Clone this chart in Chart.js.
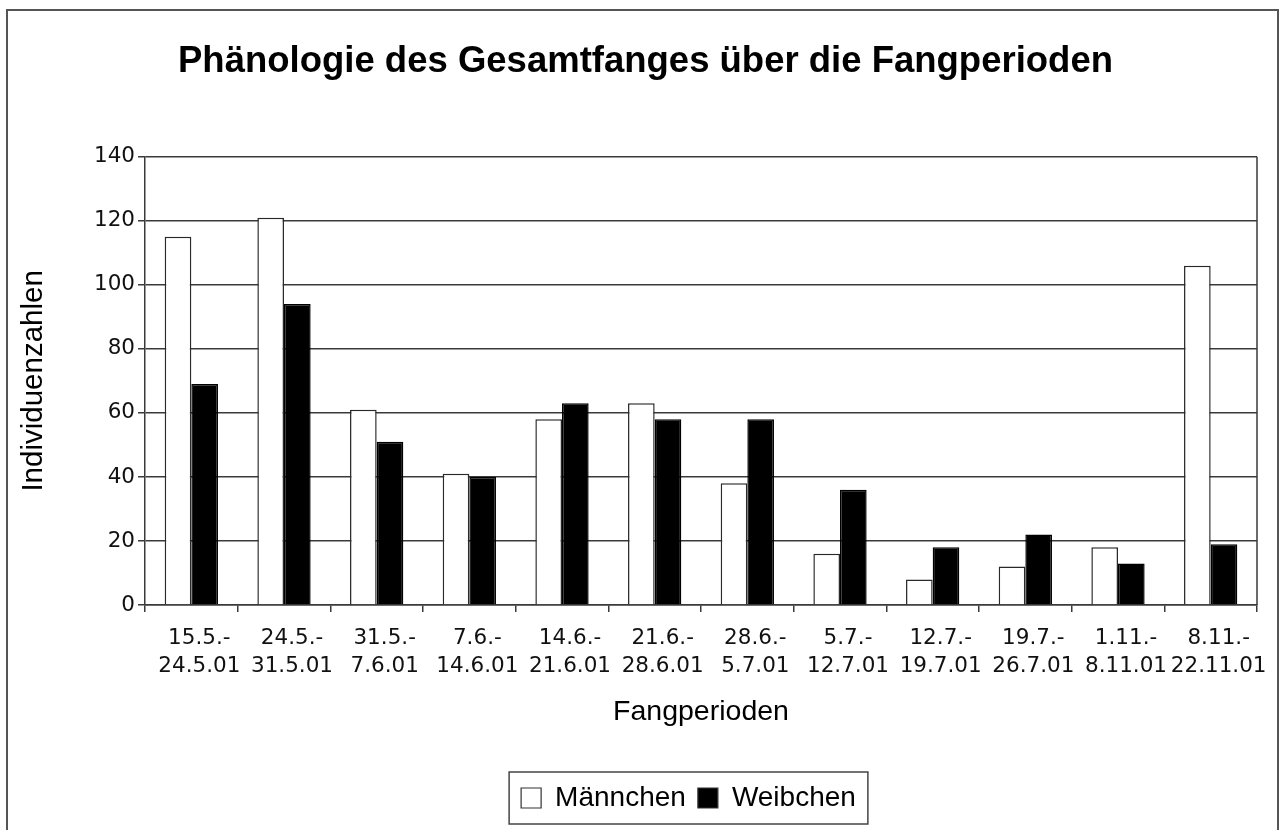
<!DOCTYPE html>
<html>
<head>
<meta charset="utf-8">
<script src="https://cdn.jsdelivr.net/npm/chart.js@4/dist/chart.umd.min.js"></script>
<style>
  html, body { margin: 0; padding: 0; background: #fff; }
  canvas { display: block; }
</style>
</head>
<body>
<canvas id="chart" width="1282" height="830"></canvas>
<script>
// Fangperioden (two-line labels)
const periods = [
    ["15.5.-", "24.5.01"], ["24.5.-", "31.5.01"], ["31.5.-", "7.6.01"],
    ["7.6.-", "14.6.01"], ["14.6.-", "21.6.01"], ["21.6.-", "28.6.01"],
    ["28.6.-", "5.7.01"], ["5.7.-", "12.7.01"], ["12.7.-", "19.7.01"],
    ["19.7.-", "26.7.01"], ["1.11.-", "8.11.01"], ["8.11.-", "22.11.01"]
];
const maennchen = [115, 121, 61, 41, 58, 63, 38, 16, 8, 12, 18, 106];
const weibchen = [69, 94, 51, 40, 63, 58, 58, 36, 18, 22, 13, 19];
const yMax = 140;
const yStep = 20;

const ARIAL = "'Liberation Sans', Arial, sans-serif";
const VERDANA = "'DejaVu Sans', Verdana, sans-serif";
const lineColor = "#3a3a3a";

// nudge title and legend sideways like in the original (Excel) layout
const shiftPlugin = {
    id: "shift",
    afterLayout(chart) {
        chart.titleBlock.left += 17;
        chart.titleBlock.right += 17;
        chart.legend.left += 60;
        chart.legend.right += 60;
    }
};

// frame around everything, right border of the plot, box around legend
const framePlugin = {
    id: "frame",
    afterDraw(chart) {
        const ctx = chart.ctx;
        const a = chart.chartArea;
        ctx.save();
        ctx.strokeStyle = lineColor;
        ctx.lineWidth = 1.5;
        ctx.beginPath();
        ctx.moveTo(a.right, a.top);
        ctx.lineTo(a.right, a.bottom);
        ctx.stroke();

        ctx.strokeStyle = "#555";
        ctx.lineWidth = 2;
        ctx.strokeRect(7, 10, 1271, 900);

        const boxes = chart.legend.legendHitBoxes;
        if (boxes && boxes.length) {
            let l = Infinity, r = -Infinity, t = Infinity, b = -Infinity;
            boxes.forEach(h => {
                l = Math.min(l, h.left);
                r = Math.max(r, h.left + h.width);
                t = Math.min(t, h.top);
                b = Math.max(b, h.top + h.height);
            });
            ctx.strokeStyle = "#444";
            ctx.lineWidth = 1.5;
            ctx.strokeRect(l - 12, t - 12, r - l + 24, b - t + 24);
        }
        ctx.restore();
    }
};

const ctx = document.getElementById("chart").getContext("2d");
new Chart(ctx, {
    type: "bar",
    data: {
        labels: periods,
        datasets: [{
            label: "Männchen",
            data: maennchen,
            backgroundColor: "#ffffff",
            borderColor: "#2a2a2a",
            borderWidth: 1.5,
            categoryPercentage: 0.575,
            barPercentage: 1.0
        }, {
            label: "Weibchen",
            data: weibchen,
            backgroundColor: "#000000",
            borderColor: "#000000",
            borderWidth: 1.5,
            categoryPercentage: 0.575,
            barPercentage: 1.0
        }]
    },
    options: {
        responsive: false,
        animation: false,
        layout: { padding: { left: 0, right: 25, top: 0, bottom: 8 } },
        plugins: {
            title: {
                display: true,
                text: "Phänologie des Gesamtfanges über die Fangperioden",
                color: "#000",
                font: { family: ARIAL, size: 36.5, weight: "bold", lineHeight: 1.2 },
                padding: { top: 40, bottom: 73 }
            },
            legend: {
                position: "bottom",
                labels: {
                    color: "#000",
                    font: { family: ARIAL, size: 28 },
                    boxWidth: 20,
                    boxHeight: 20,
                    padding: 12,
                    generateLabels(chart) {
                        return chart.data.datasets.map((ds, i) => ({
                            text: ds.label,
                            fillStyle: ds.backgroundColor,
                            strokeStyle: "#333",
                            lineWidth: 1.2,
                            hidden: false,
                            datasetIndex: i,
                            fontColor: "#000"
                        }));
                    }
                }
            },
            tooltip: { enabled: false }
        },
        scales: {
            x: {
                offset: true,
                grid: {
                    display: true,
                    drawOnChartArea: false,
                    drawTicks: true,
                    tickLength: 7,
                    color: lineColor,
                    lineWidth: 1.5
                },
                border: { display: true, color: lineColor, width: 1.5 },
                ticks: {
                    color: "#111",
                    font: { family: VERDANA, size: 21.5, lineHeight: 1.3 },
                    padding: 12,
                    labelOffset: 8,
                    maxRotation: 0,
                    autoSkip: false
                },
                title: {
                    display: true,
                    text: "Fangperioden",
                    color: "#000",
                    font: { family: ARIAL, size: 28.5, lineHeight: 1.2 },
                    padding: { top: 0, bottom: 43 }
                },
                afterFit(scale) { scale.height = 167; }
            },
            y: {
                min: 0,
                max: yMax,
                ticks: {
                    stepSize: yStep,
                    color: "#111",
                    font: { family: VERDANA, size: 21.5 },
                    padding: 3
                },
                grid: {
                    color: lineColor,
                    lineWidth: 1.5,
                    tickLength: 7
                },
                border: { display: true, color: lineColor, width: 1.5 },
                title: {
                    display: true,
                    text: "Individuenzahlen",
                    color: "#000",
                    font: { family: ARIAL, size: 29.5, lineHeight: 1.2 },
                    padding: { top: 16, bottom: 0 }
                },
                afterFit(scale) { scale.width = 145; }
            }
        }
    },
    plugins: [shiftPlugin, framePlugin]
});
</script>
</body>
</html>
